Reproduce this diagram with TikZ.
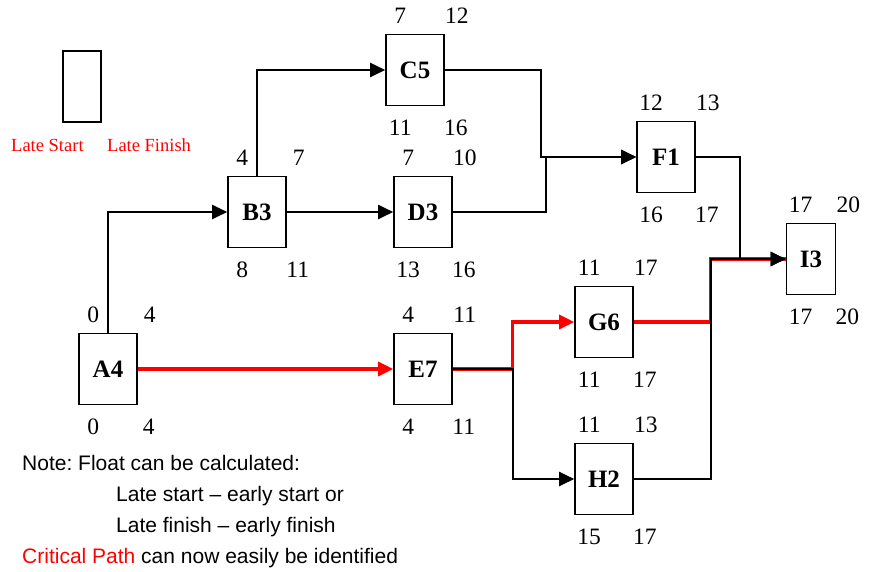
\documentclass[tikz,border=0pt]{standalone}
\usepackage{fontspec}
\setmainfont{Liberation Serif}
\setsansfont{Liberation Sans}
\usetikzlibrary{arrows.meta,calc}
\frenchspacing

\begin{document}
\begin{tikzpicture}[
  x=1pt, y=-1pt,
  task/.style={
    draw, line width=1.6pt, inner sep=0pt,
    minimum width=58pt, minimum height=71pt,
    font=\fontsize{25}{28}\selectfont\bfseries
  },
  num/.style={anchor=base, inner sep=0pt, font=\fontsize{23.5}{26}\selectfont},
  key/.style={anchor=base west, inner sep=0pt, text=red, font=\fontsize{18.5}{21}\selectfont},
  note/.style={anchor=base west, inner sep=0pt, font=\sffamily\fontsize{21}{24}\selectfont},
  arrow/.style={-{Triangle[length=15pt,width=14pt]}, line width=2pt},
  crit/.style={red, line width=3.2pt},
  critarrow/.style={arrow, red, line width=3.2pt}
]
\useasboundingbox (0,0) rectangle (869,571);

% legend
\node[draw, line width=1.6pt, inner sep=0pt, minimum width=38pt, minimum height=71pt] (legend) at (82,86.5) {};
\node[key] (lskey) at (11,151) {Late Start};
\node[key] (lfkey) at (107,151) {Late Finish};

% activities
\node[task] (A4) at (108,369) {A4};
\node[task] (B3) at (257,212) {B3};
\node[task] (C5) at (415,70) {C5};
\node[task] (D3) at (423,212) {D3};
\node[task] (E7) at (423,369) {E7};
\node[task] (F1) at (666,157) {F1};
\node[task] (G6) at (604,322) {G6};
\node[task] (H2) at (604,479) {H2};
\node[task, minimum width=49pt] (I3) at (811,259) {I3};

% early start/finish above, late start/finish below
\foreach \tk/\es/\ef/\ls/\lf in {A4/0/4/0/4, B3/4/7/8/11, C5/7/12/11/16,
    D3/7/10/13/16, E7/4/11/4/11, F1/12/13/16/17, G6/11/17/11/17,
    H2/11/13/15/17, I3/17/20/17/20}{
  \node[num] (\tk-es) at ($(\tk.north west)+(15,-10)$) {\es};
  \node[num] (\tk-ef) at ($(\tk.north east)+(12,-10)$) {\ef};
  \node[num] (\tk-ls) at ($(\tk.south west)+(15,29)$) {\ls};
  \node[num] (\tk-lf) at ($(\tk.south east)+(11,29)$) {\lf};
}

% critical path
\draw[critarrow] (A4.east) -- (E7.west);
\draw[critarrow] (E7.east) -- ++(60,0) |- (G6.west);
\draw[crit] (G6.east) -- ++(77,0) |- (I3.west);

% other links
\draw[arrow] (A4.north) |- (B3.west);
\draw[arrow] (B3.north) |- (C5.west);
\draw[arrow] (B3) -- (D3);
\draw[arrow] (C5.east) -- ++(96,0) |- (F1.west);
\draw[arrow] (D3.east) -- ++(93,0) |- (F1.west);
\draw[arrow] (F1.east) -- ++(44,0) |- (I3.west);
\draw[arrow] (E7.east) -- ++(60,0) |- (H2.west);
\draw[arrow] (H2.east) -- ++(77,0) |- (I3.west);

% notes
\node[note] (note1) at (22,470) {Note: Float can be calculated:};
\node[note] (note2) at (116,501) {Late start – early start or};
\node[note] (note3) at (116,532) {Late finish – early finish};
\node[note] (note4) at (22,563) {\textcolor{red}{Critical Path} can now easily be identified};
\end{tikzpicture}
\end{document}
